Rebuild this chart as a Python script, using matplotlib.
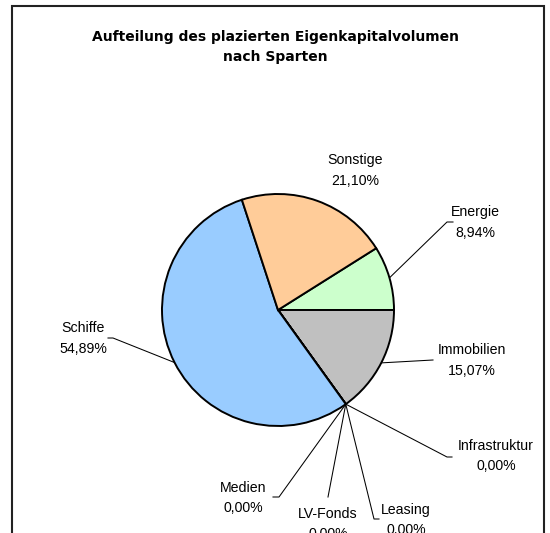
import numpy as np
import matplotlib
matplotlib.use("Agg")
import matplotlib.pyplot as plt
from matplotlib.patches import Rectangle

# data (Excel order, clockwise)
categories = ["Energie", "Immobilien", "Infrastruktur", "Leasing",
              "LV-Fonds", "Medien", "Schiffe", "Sonstige"]
shares = [8.94, 15.07, 0.00, 0.00, 0.00, 0.00, 54.89, 21.10]
colors = ["#CCFFCC", "#C0C0C0", "#FFFF99", "#99CC00",
          "#FF99CC", "#CC99FF", "#99CCFF", "#FFCC99"]
title = "Aufteilung des plazierten Eigenkapitalvolumen\nnach Sparten"

W, H = 550, 533
plt.rcParams['font.family'] = ['Liberation Sans', 'DejaVu Sans']

fig = plt.figure(figsize=(W / 100, H / 100), dpi=100)
ax = fig.add_axes([0, 0, 1, 1])


def py(y):
    # pixel row (top down) -> axes y (bottom up)
    return H - y


cx, cy, r = 278, py(310), 116
start = 360 * shares[0] / 100  # Energie ends at 3 o'clock

wedges, _ = ax.pie(shares, colors=colors, startangle=start, counterclock=False,
                   center=(cx, cy), radius=r, frame=True,
                   wedgeprops=dict(edgecolor='black', linewidth=1.4))
ax.set_xlim(0, W)
ax.set_ylim(0, H)
ax.set_aspect('equal')
ax.axis('off')

# label layout: text centre, leader elbow, leader end (pixel rows)
layout = {
    "Sonstige":      ((355, 170.5), None, None),
    "Energie":       ((475, 222.5), (447, 222), (453, 222)),
    "Immobilien":    ((472, 360.5), (433, 360), (433, 360)),
    "Infrastruktur": ((496, 456), (447, 457), (452, 457)),
    "Leasing":       ((406, 520), (374, 519), (379, 519)),
    "LV-Fonds":      ((328, 524), (328, 497), (328, 497)),
    "Medien":        ((243, 498), (279, 497), (273, 497)),
    "Schiffe":       ((83, 338.5), (113, 338), (108, 338)),
}

for w, name, val in zip(wedges, categories, shares):
    (tx, ty), elbow, end = layout[name]
    txt = f"{name}\n{val:.2f}".replace('.', ',') + "%"
    ax.text(tx, py(ty), txt, ha='center', va='center', fontsize=10.2,
            linespacing=1.62, color='black')
    if elbow is None:
        continue
    mid = np.deg2rad((w.theta1 + w.theta2) / 2)
    ax_pt = (cx + r * np.cos(mid), cy + r * np.sin(mid))
    xs = [ax_pt[0], elbow[0], end[0]]
    ys = [ax_pt[1], py(elbow[1]), py(end[1])]
    ax.plot(xs, ys, color='black', linewidth=0.75, zorder=0.5)

# wider face to get closer to the spaced-out Excel title
ax.text(275, py(47), title, ha='center', va='center', fontsize=10,
        fontweight='bold', family='DejaVu Sans', linespacing=1.6)

# chart area frame
ax.add_patch(Rectangle((12, -10), 532, py(6) + 10, fill=False,
                       edgecolor='#222222', linewidth=1.5, clip_on=False))

fig.savefig("out.png", dpi=100)
